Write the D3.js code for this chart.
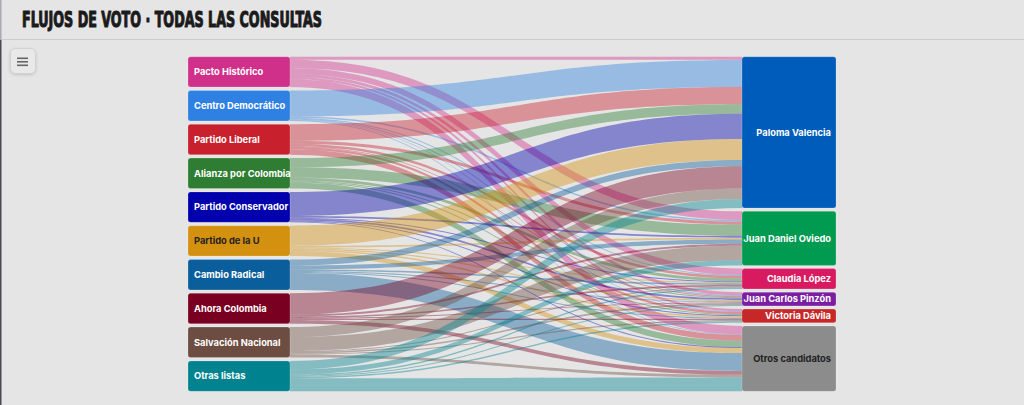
<!DOCTYPE html>
<html><head><meta charset="utf-8">
<script src="https://cdn.jsdelivr.net/npm/d3@7"></script>
<style>
html,body{margin:0;padding:0;background:#e5e5e5;overflow:hidden;}
svg{display:block;}
</style></head>
<body>
<svg id="chart" width="1024" height="405"></svg>
<script>
// ---- DATA ----
const sources = ["Pacto Histórico","Centro Democrático","Partido Liberal","Alianza por Colombia","Partido Conservador","Partido de la U","Cambio Radical","Ahora Colombia","Salvación Nacional","Otras listas"];
const sourceColors = ["#d1308a","#2e80e2","#c9202e","#2e7d32","#0000ad","#d4900f","#0b5e9c","#7a0021","#6d4c41","#00838f"];
const sourceTextColors = ["#fff","#fff","#fff","#fff","#fff","#222","#fff","#fff","#fff","#fff"];
const targets = ["Paloma Valencia","Juan Daniel Oviedo","Claudia López","Juan Carlos Pinzón","Victoria Dávila","Otros candidatos"];
const targetColors = ["#005cba","#009a50","#d81b60","#7b1fa2","#c62828","#8c8c8c"];
const targetTextColors = ["#fff","#fff","#fff","#fff","#fff","#222"];
// % of each list's voters going to each candidate (order = targets)
const pactoHistorico      = [10, 27, 20, 10, 7, 26];
const centroDemocratico   = [85, 5, 3, 3, 2, 2];
const partidoLiberal      = [54, 10, 8, 3, 7, 18];
const alianzaPorColombia  = [30, 35, 9, 3, 3, 20];
const partidoConservador  = [79, 6, 3, 6, 3, 3];
const partidoDeLaU        = [66, 6, 3, 4, 5, 16];
const cambioRadical       = [20, 13, 5, 3, 3, 56];
const ahoraColombia       = [70, 6, 5, 3, 4, 12];
const salvacionNacional   = [33, 46, 3, 5, 4, 9];
const otrasListas         = [28, 16, 5, 3, 5, 43];
const flowRows = [pactoHistorico, centroDemocratico, partidoLiberal, alianzaPorColombia, partidoConservador, partidoDeLaU, cambioRadical, ahoraColombia, salvacionNacional, otrasListas];
const titleText = "FLUJOS DE VOTO · TODAS LAS CONSULTAS";

// ---- LAYOUT ----
const svg = d3.select("#chart");
const W = 1024, H = 405;
const yTop = 56.7, yBottom = 391.3;
const xL0 = 188, xL1 = 290, xR0 = 742, xR1 = 836;
const gapL = 3.4, gapR = 3.2;

// header
svg.append("rect").attr("x",0).attr("y",0).attr("width",W).attr("height",H).attr("fill","#e5e5e5");
svg.append("line").attr("x1",0).attr("x2",W).attr("y1",39.5).attr("y2",39.5).attr("stroke","#cdcdcd").attr("stroke-width",1);
svg.append("rect").attr("x",0).attr("y",0).attr("width",1.5).attr("height",40).attr("fill","#a9a9ae");
svg.append("rect").attr("x",0).attr("y",40).attr("width",1.5).attr("height",H-40).attr("fill","#4a4a52");
svg.append("text").attr("x",22).attr("y",27)
  .attr("font-family","'Liberation Sans Narrow','DejaVu Sans Condensed',sans-serif")
  .attr("font-weight","bold").attr("font-size",22).attr("fill","#1b1b1b")
  .attr("textLength",300).attr("lengthAdjust","spacingAndGlyphs")
  .attr("stroke","#1b1b1b").attr("stroke-width",1.1).attr("stroke-linejoin","round")
  .text(titleText);

// menu button
const btn = svg.append("g");
btn.append("rect").attr("x",10.5).attr("y",48.5).attr("width",25).attr("height",25).attr("rx",5)
  .attr("fill","#e9e9e9").attr("stroke","#d2d2d2").attr("stroke-width",1)
  .style("filter","drop-shadow(0px 1px 1.5px rgba(0,0,0,0.15))");
[57.5,61,64.5].forEach(y=>btn.append("rect").attr("x",17).attr("y",y).attr("width",11).attr("height",1.6).attr("fill","#666"));

// totals
const srcTotals = flowRows.map(r=>d3.sum(r));
const tgtTotals = targets.map((t,j)=>d3.sum(flowRows,r=>r[j]));
const total = d3.sum(srcTotals);

const yL = d3.scaleLinear().domain([0,total]).range([0, (yBottom-yTop) - gapL*(sources.length-1)]);
const yR = d3.scaleLinear().domain([0,total]).range([0, (yBottom-yTop) - gapR*(targets.length-1)]);

const srcNodes = []; let acc = yTop;
sources.forEach((s,i)=>{ const h=yL(srcTotals[i]); srcNodes.push({name:s,y0:acc,y1:acc+h,color:sourceColors[i],text:sourceTextColors[i]}); acc+=h+gapL; });
const tgtNodes = []; acc = yTop;
targets.forEach((t,j)=>{ const h=yR(tgtTotals[j]); tgtNodes.push({name:t,y0:acc,y1:acc+h,color:targetColors[j],text:targetTextColors[j]}); acc+=h+gapR; });

// links
const links = [];
const srcOff = srcNodes.map(n=>n.y0);
const tgtOff = tgtNodes.map(n=>n.y0);
flowRows.forEach((row,i)=>{
  row.forEach((v,j)=>{
    const sy0 = srcOff[i], sy1 = sy0 + yL(v); srcOff[i] = sy1;
    links.push({i,j,v,sy0,sy1});
  });
});
targets.forEach((t,j)=>{
  links.filter(l=>l.j===j).sort((a,b)=>a.i-b.i).forEach(l=>{
    l.ty0 = tgtOff[j]; l.ty1 = l.ty0 + yR(l.v); tgtOff[j] = l.ty1;
  });
});

function bandPath(l){
  const p = d3.path();
  const xm = (xL1 + xR0)/2;
  p.moveTo(xL1, l.sy0);
  p.bezierCurveTo(xm, l.sy0, xm, l.ty0, xR0, l.ty0);
  p.lineTo(xR0, l.ty1);
  p.bezierCurveTo(xm, l.ty1, xm, l.sy1, xL1, l.sy1);
  p.closePath();
  return p.toString();
}
svg.append("g").selectAll("path").data(links).join("path")
  .attr("d",bandPath)
  .attr("fill",d=>sourceColors[d.i])
  .attr("fill-opacity",0.42);

// nodes
function drawNodes(nodes,x0,x1,align){
  const g = svg.append("g");
  g.selectAll("rect").data(nodes).join("rect")
    .attr("x",x0).attr("y",d=>d.y0).attr("width",x1-x0).attr("height",d=>d.y1-d.y0)
    .attr("rx",2.5).attr("fill",d=>d.color)
    .attr("stroke","rgba(255,255,255,0.35)").attr("stroke-width",0.6);
  g.selectAll("text").data(nodes).join("text")
    .attr("x", align==="start" ? x0+6 : x1-5)
    .attr("y",d=>(d.y0+d.y1)/2)
    .attr("dy","0.35em")
    .attr("text-anchor",align)
    .attr("font-family","Inter, 'Noto Sans', sans-serif")
    .attr("font-weight",700).attr("font-size",9.3)
    .attr("fill",d=>d.text)
    .text(d=>d.name);
}
drawNodes(srcNodes,xL0,xL1,"start");
drawNodes(tgtNodes,xR0,xR1,"end");
</script>
</body></html>
